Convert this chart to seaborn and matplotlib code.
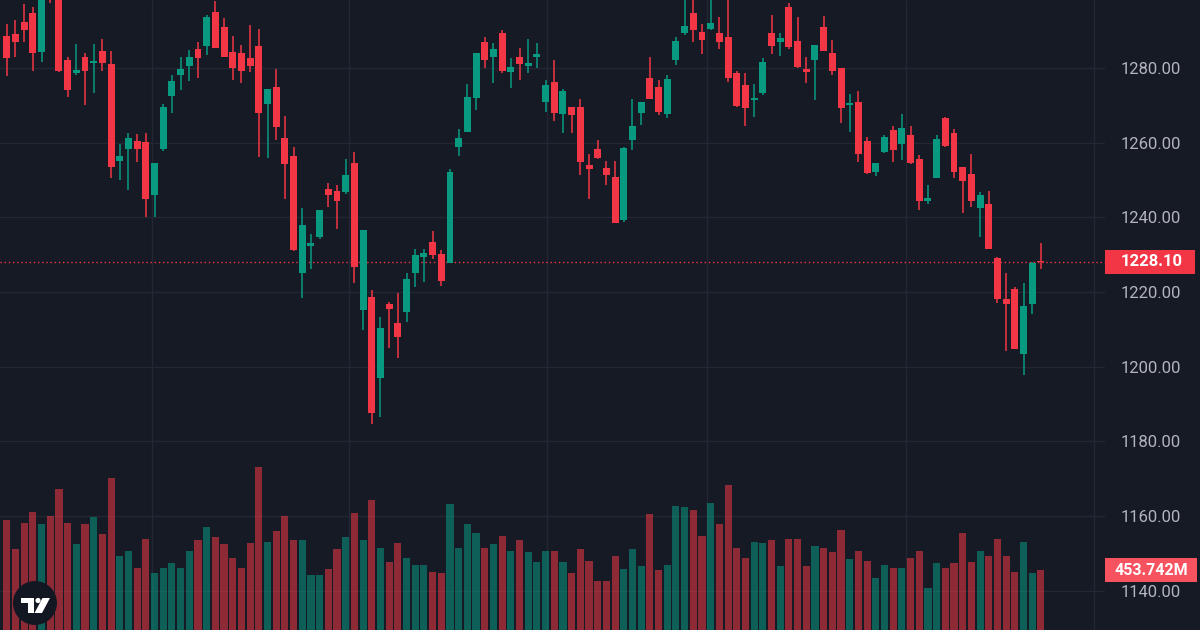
import numpy as np
import pandas as pd
import matplotlib
matplotlib.use("Agg")
import matplotlib.pyplot as plt
import seaborn as sns
from matplotlib.patches import Rectangle, Circle, Polygon
from matplotlib.transforms import blended_transform_factory, IdentityTransform

# ---------------- data ----------------
opens = [1288.57, 1289.02, 1292.41, 1294.81, 1284.37, 1306.0, 1302.0, 1282.14, 1278.75, 1282.86,
         1281.43, 1284.64, 1280.98, 1255.19, 1258.30, 1260.54, 1260.28, 1246.00, 1258.22, 1272.59,
         1278.13, 1280.53, 1285.09, 1285.98, 1295.08, 1290.89, 1284.37, 1283.93, 1282.77, 1285.89,
         1270.36, 1275.00, 1261.17, 1256.53, 1225.02, 1232.43, 1234.66, 1247.51, 1247.07, 1246.89,
         1254.48, 1215.21, 1218.78, 1197.09, 1216.81, 1211.81, 1214.76, 1225.20, 1229.31, 1233.50,
         1230.20, 1227.70, 1258.94, 1262.96, 1271.88, 1287.05, 1282.86, 1289.46, 1279.02, 1283.03,
         1280.62, 1283.03, 1270.99, 1276.16, 1267.68, 1269.47, 1269.65, 1254.03, 1258.22, 1253.14,
         1250.73, 1239.30, 1260.72, 1267.86, 1277.23, 1274.82, 1267.68, 1282.14, 1289.28, 1294.81,
         1289.73, 1290.35, 1289.28, 1288.21, 1278.57, 1275.45, 1271.43, 1273.40, 1289.28, 1287.05,
         1296.42, 1287.32, 1279.64, 1282.14, 1291.07, 1283.93, 1279.91, 1270.09, 1270.99, 1260.54,
         1252.24, 1257.42, 1263.40, 1259.65, 1262.06, 1255.63, 1244.39, 1250.64, 1266.52, 1262.51,
         1253.58, 1251.62, 1242.43, 1243.59, 1229.22, 1218.15, 1220.74, 1203.34, 1216.81, 1228.40]
highs = [1291.78, 1292.85, 1297.14, 1296.24, 1301.0, 1308.0, 1304.0, 1282.86, 1286.34, 1283.93,
         1286.34, 1287.76, 1284.64, 1259.65, 1262.69, 1262.24, 1262.69, 1254.48, 1270.27, 1278.13,
         1282.86, 1284.82, 1287.05, 1294.19, 1298.03, 1293.30, 1288.66, 1286.16, 1291.51, 1290.44,
         1274.38, 1279.73, 1267.24, 1258.94, 1242.43, 1235.47, 1241.98, 1249.30, 1248.67, 1255.55,
         1257.60, 1236.62, 1220.56, 1213.42, 1217.44, 1219.85, 1225.02, 1231.45, 1231.45, 1236.45,
         1231.27, 1252.87, 1263.58, 1275.72, 1283.93, 1288.39, 1286.78, 1290.17, 1282.59, 1285.27,
         1287.76, 1286.78, 1276.79, 1282.14, 1274.29, 1269.47, 1271.61, 1256.88, 1260.72, 1255.19,
         1255.19, 1258.94, 1271.61, 1270.99, 1283.03, 1276.79, 1278.13, 1288.21, 1299.50, 1299.50,
         1291.78, 1299.50, 1293.74, 1299.50, 1279.20, 1278.57, 1275.72, 1282.77, 1294.19, 1289.28,
         1297.49, 1293.57, 1283.03, 1286.16, 1294.01, 1287.50, 1279.91, 1273.04, 1273.93, 1261.43,
         1254.48, 1262.06, 1264.47, 1267.59, 1264.47, 1256.71, 1248.67, 1262.06, 1266.97, 1263.67,
         1253.58, 1256.97, 1246.71, 1247.07, 1229.49, 1225.20, 1221.45, 1222.52, 1228.15, 1233.06]
lows = [1277.86, 1283.03, 1287.05, 1279.20, 1281.52, 1297.5, 1279.0, 1272.33, 1278.13, 1270.09,
        1273.40, 1279.20, 1250.46, 1250.01, 1247.33, 1254.74, 1240.02, 1240.02, 1257.87, 1267.86,
        1274.11, 1276.52, 1277.23, 1283.48, 1285.44, 1283.03, 1276.79, 1276.07, 1279.02, 1256.26,
        1255.81, 1260.72, 1244.84, 1231.00, 1218.33, 1226.09, 1234.13, 1242.87, 1236.89, 1246.18,
        1222.35, 1209.85, 1184.69, 1186.65, 1204.94, 1202.27, 1212.08, 1221.27, 1222.79, 1228.77,
        1221.63, 1227.70, 1256.44, 1262.96, 1268.75, 1279.91, 1276.07, 1278.57, 1274.56, 1276.79,
        1278.57, 1279.91, 1268.30, 1265.90, 1262.51, 1262.51, 1251.35, 1244.84, 1255.55, 1248.67,
        1238.59, 1238.86, 1258.05, 1264.74, 1271.61, 1267.42, 1266.52, 1280.80, 1288.84, 1287.05,
        1283.75, 1290.17, 1285.00, 1276.34, 1269.47, 1264.47, 1266.79, 1272.77, 1283.66, 1283.21,
        1285.09, 1279.91, 1276.07, 1271.43, 1284.64, 1278.13, 1265.18, 1262.96, 1254.74, 1251.62,
        1251.08, 1257.15, 1254.74, 1255.37, 1254.30, 1241.98, 1243.59, 1250.46, 1258.94, 1250.46,
        1241.27, 1242.87, 1234.66, 1231.54, 1216.99, 1204.32, 1204.77, 1197.81, 1214.13, 1226.09]
closes = [1282.59, 1287.05, 1290.17, 1283.93, 1300.0, 1300.5, 1279.29, 1274.11, 1279.46, 1279.29,
          1281.96, 1281.25, 1253.58, 1256.44, 1261.17, 1258.30, 1244.84, 1254.48, 1269.65, 1276.52,
          1279.73, 1282.86, 1282.77, 1293.74, 1285.44, 1283.03, 1280.09, 1279.29, 1280.53, 1268.04,
          1274.38, 1264.12, 1254.21, 1231.27, 1237.96, 1233.06, 1241.98, 1246.00, 1244.39, 1251.35,
          1226.81, 1236.62, 1187.54, 1210.30, 1215.39, 1207.89, 1223.42, 1229.93, 1230.38, 1229.93,
          1222.97, 1252.24, 1261.35, 1272.33, 1283.93, 1282.14, 1285.00, 1279.29, 1280.36, 1281.07,
          1281.25, 1283.66, 1275.45, 1267.86, 1273.93, 1267.42, 1254.92, 1252.96, 1255.81, 1251.35,
          1238.59, 1258.67, 1264.47, 1270.99, 1271.61, 1268.13, 1276.97, 1287.32, 1291.24, 1290.17,
          1287.50, 1291.96, 1287.05, 1277.23, 1269.83, 1269.20, 1272.06, 1281.70, 1285.89, 1287.94,
          1285.71, 1280.36, 1279.02, 1286.16, 1284.64, 1279.20, 1269.20, 1270.72, 1256.88, 1251.98,
          1254.48, 1261.44, 1258.05, 1264.02, 1254.48, 1244.39, 1245.28, 1261.00, 1259.12, 1252.06,
          1249.83, 1244.39, 1245.91, 1231.54, 1218.06, 1216.81, 1204.77, 1216.28, 1227.70, 1228.10]
volumes_m = [836, 616, 816, 899, 803, 866, 1069, 816, 651, 803,
             859, 727, 1153, 560, 603, 474, 694, 431, 474, 507,
             474, 603, 684, 780, 707, 651, 550, 474, 661, 1241,
             671, 750, 866, 684, 684, 418, 418, 464, 616, 707,
             892, 684, 990, 626, 519, 661, 550, 496, 496, 441,
             431, 958, 626, 803, 737, 626, 651, 717, 603, 684,
             593, 519, 603, 603, 519, 431, 616, 527, 375, 375,
             560, 464, 616, 484, 882, 454, 496, 945, 935, 912,
             717, 968, 803, 1102, 626, 550, 671, 661, 681, 484,
             694, 694, 484, 638, 626, 593, 760, 540, 603, 527,
             398, 496, 474, 474, 550, 603, 319, 507, 474, 507,
             737, 517, 603, 560, 694, 560, 441, 671, 431, 453.742]
price_ticks = [1140, 1160, 1180, 1200, 1220, 1240, 1260, 1280]
top_tick = 1300
last_price = 1228.10
last_volume_label = "453.742M"
time_grid = [16.71, 39.38, 62.16, 80.57, 103.48, 125.11]

# ---------------- style ----------------
BG = "#161A25"
GRID = "#232733"
TXT = "#B2B5BE"
UP = "#089981"
DN = "#F23645"
FONT = ["Roboto", "DejaVu Sans"]
FS = 12

sns.set_theme(style="dark")
plt.rcParams["font.family"] = FONT

W, H = 1200, 630
fig = plt.figure(figsize=(W / 100, H / 100), dpi=100, facecolor=BG)
pane_w = 1105
ax_v = fig.add_axes([0, 0, pane_w / W, 1])
ax_v.set_facecolor(BG)
ax_p = ax_v.twinx()

n = len(opens)
idx = np.arange(n)
o = np.array(opens); c = np.array(closes); h = np.array(highs); l = np.array(lows)
up = c >= o
df = pd.DataFrame({"idx": idx, "vol": volumes_m, "dir": np.where(up, "up", "down")})

# volume bars (seaborn)
sns.barplot(data=df, x="idx", y="vol", hue="dir", palette={"up": UP, "down": DN},
            native_scale=True, dodge=False, width=0.82, errorbar=None, legend=False,
            saturation=1, alpha=0.55, linewidth=0, ax=ax_v)

xlim = (-6.8 / 8.69, (pane_w - 6.8) / 8.69)
ax_v.set_xlim(*xlim)
ax_v.set_ylim(0, 630 * 7.6)
ax_p.set_ylim(1298.206 - 630 / 3.735, 1298.206)
ax_p.set_xlim(*xlim)

# grid (behind everything)
ax_v.set_xticks(time_grid)
ax_v.tick_params(axis="x", length=0, labelbottom=False)
ax_v.grid(False)
for xg in time_grid:
    ax_v.axvline(xg, color=GRID, lw=1, zorder=0)
bt = blended_transform_factory(ax_v.transAxes, ax_p.transData)
for p in price_ticks + [top_tick]:
    ax_v.plot([0, 1], [p, p], color=GRID, lw=1, transform=bt, zorder=0)
ax_v.set_yticks([])
ax_v.set_xlabel(""); ax_v.set_ylabel("")
for s in ax_v.spines.values():
    s.set_visible(False)

# candles
cols = np.where(up, UP, DN)
ax_p.vlines(idx, l, h, colors=cols, linewidth=1.1, zorder=3)
body_lo = np.minimum(o, c)
body_h = np.maximum(np.abs(c - o), 0.35)
ax_p.bar(idx, body_h, bottom=body_lo, width=0.8, color=cols, linewidth=0, zorder=4)

# last price line
ax_p.axhline(last_price, color=DN, lw=1, linestyle=(0, (1, 2)), zorder=2)

# price axis labels
ax_p.set_yticks(price_ticks)
ax_p.set_yticklabels([f"{t:.2f}" for t in price_ticks])
ax_p.tick_params(axis="y", length=0, pad=11.5, labelsize=FS, labelcolor=TXT)
ax_p.grid(False)
for s in ax_p.spines.values():
    s.set_visible(False)
ax_p.text(1.0 + 16 / pane_w, top_tick, f"{top_tick:.2f}", transform=bt, color=TXT,
          fontsize=FS, ha="left", va="center", clip_on=False)

# price label box
yp = ax_p.transData.transform((0, last_price))[1]
fig.add_artist(Rectangle((1105, yp - 12), 90, 24, transform=IdentityTransform(),
                         facecolor=DN, edgecolor="none", zorder=10))
fig.text(1121, yp, f"{last_price:.2f}", transform=IdentityTransform(), color="white",
         fontsize=FS, fontweight="bold", ha="left", va="center", zorder=11)

# volume label box
yv = ax_v.transData.transform((0, volumes_m[-1]))[1]
fig.add_artist(Rectangle((1105, yv - 12), 92, 24, transform=IdentityTransform(),
                         facecolor="#F7525F", edgecolor="none", zorder=10))
fig.text(1151, yv, last_volume_label, transform=IdentityTransform(), color="white",
         fontsize=11.5, fontweight="bold", ha="center", va="center", zorder=11)

# TradingView logo
def P(x, y):
    return (x, H - y)
fig.add_artist(Circle(P(35, 603), 22, transform=IdentityTransform(),
                      facecolor="#131722", edgecolor="none", zorder=10))
fig.add_artist(Polygon([P(21, 598), P(33.5, 598), P(33.5, 613), P(27.5, 613), P(27.5, 603), P(21, 603)],
                       closed=True, transform=IdentityTransform(), facecolor="white", edgecolor="none", zorder=11))
fig.add_artist(Circle(P(38, 600.5), 2.6, transform=IdentityTransform(),
                      facecolor="white", edgecolor="none", zorder=11))
fig.add_artist(Polygon([P(42.5, 598), P(50, 598), P(42, 613), P(34.5, 613)],
                       closed=True, transform=IdentityTransform(), facecolor="white", edgecolor="none", zorder=11))

fig.savefig("out.png", dpi=100, facecolor=BG)
